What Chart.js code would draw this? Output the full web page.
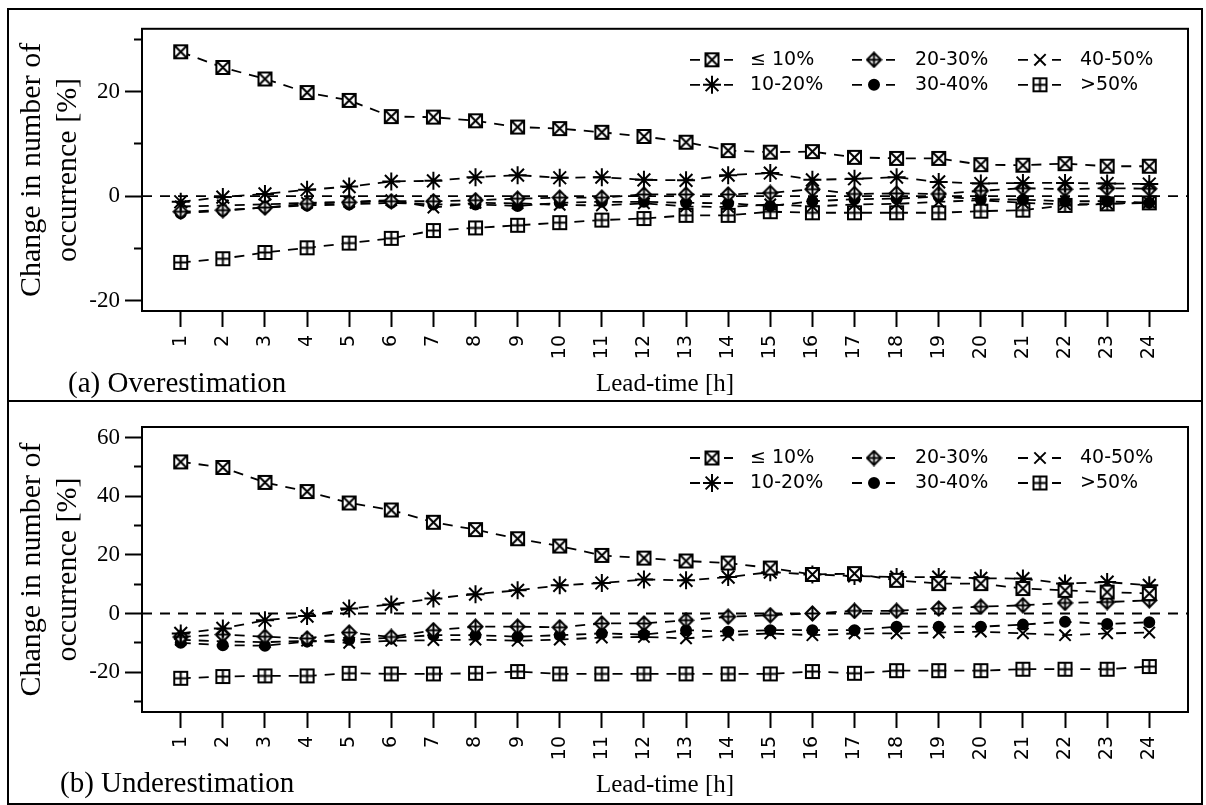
<!DOCTYPE html>
<html>
<head>
<meta charset="utf-8">
<script src="https://cdn.jsdelivr.net/npm/chart.js@4.4.1/dist/chart.umd.min.js"></script>
<style>
  body { margin: 0; background: #fff; }
  #fig { position: relative; width: 1206px; height: 805px; }
  .panel { position: absolute; left: 7px; width: 1196px; border: 2px solid #000; box-sizing: border-box; }
  #panel-a { top: 8px; height: 394px; }
  #panel-b { top: 400px; height: 405px; }
  .panel canvas { position: absolute; left: 0; top: 0; }
  .panel-label { position: absolute; font-family: "Liberation Serif", serif; font-size: 29px; line-height: 29px; color: #000; white-space: nowrap; }
</style>
</head>
<body>
<div id="fig">
  <div class="panel" id="panel-a">
    <canvas id="chart-a" width="1192" height="390"></canvas>
    <div class="panel-label" style="left:59px; top:358px">(a) Overestimation</div>
  </div>
  <div class="panel" id="panel-b">
    <canvas id="chart-b" width="1192" height="401"></canvas>
    <div class="panel-label" style="left:51px; top:366px">(b) Underestimation</div>
  </div>
</div>
<script>
// lead times (x axis)
const leadTimes = [1, 2, 3, 4, 5, 6, 7, 8, 9, 10, 11, 12, 13, 14, 15, 16, 17, 18, 19, 20, 21, 22, 23, 24];
const classNames = ['≤ 10%', '10-20%', '20-30%', '30-40%', '40-50%', '>50%'];

// (a) Overestimation
const overLe10  = [27.6, 24.6, 22.4, 19.8, 18.3, 15.2, 15.1, 14.4, 13.2, 12.9, 12.2, 11.4, 10.3, 8.7, 8.4, 8.5, 7.4, 7.2, 7.2, 6.0, 5.9, 6.2, 5.7, 5.7];
const over10_20 = [-1.1, -0.2, 0.4, 1.2, 1.8, 2.8, 2.9, 3.6, 4.0, 3.5, 3.6, 3.1, 3.0, 4.0, 4.4, 3.1, 3.3, 3.6, 2.7, 2.4, 2.5, 2.5, 2.4, 2.3];
const over20_30 = [-3.0, -2.7, -2.2, -1.5, -1.2, -1.0, -1.0, -0.8, -0.5, -0.3, -0.3, 0.3, 0.3, 0.3, 0.6, 1.3, 0.4, 0.5, 0.4, 1.0, 1.5, 1.3, 1.5, 1.4];
const over30_40 = [-3.3, -2.8, -2.2, -1.8, -1.6, -1.3, -1.6, -1.6, -1.9, -1.3, -1.1, -1.1, -1.3, -1.4, -1.9, -1.0, -0.6, -0.5, -0.1, -0.6, -0.7, -1.0, -1.0, -1.3];
const over40_50 = [-2.0, -1.8, -1.6, -1.3, -1.1, -0.8, -2.2, -1.3, -1.4, -1.7, -1.8, -1.4, -2.0, -2.1, -1.6, -2.0, -1.6, -1.5, -1.1, -0.8, -1.3, -1.6, -1.5, -1.2];
const overGt50  = [-12.7, -12.0, -10.8, -9.9, -9.0, -8.1, -6.6, -6.1, -5.6, -5.1, -4.6, -4.3, -3.7, -3.7, -3.0, -3.2, -3.2, -3.2, -3.2, -2.9, -2.7, -1.8, -1.5, -1.3];

// (b) Underestimation
const underLe10  = [51.7, 49.8, 44.7, 41.6, 37.7, 35.3, 31.1, 28.6, 25.5, 23.0, 19.8, 18.9, 17.9, 17.2, 15.5, 13.3, 13.6, 11.3, 10.2, 10.2, 8.5, 7.9, 7.3, 6.8];
const under10_20 = [-6.8, -5.1, -2.3, -0.9, 1.7, 3.1, 5.1, 6.6, 7.9, 9.6, 10.4, 11.6, 11.3, 12.4, 14.1, 13.3, 12.8, 12.4, 12.4, 12.0, 11.9, 10.2, 10.7, 9.6];
const under20_30 = [-8.0, -7.2, -7.9, -8.5, -6.5, -8.0, -5.7, -4.5, -4.5, -4.7, -3.4, -3.4, -2.3, -1.1, -0.6, 0.0, 0.9, 0.9, 1.7, 2.3, 2.8, 3.6, 3.9, 4.5];
const under30_40 = [-10.0, -10.8, -11.0, -9.6, -9.0, -8.3, -7.4, -7.4, -7.9, -7.4, -6.8, -7.2, -5.7, -6.2, -5.7, -5.7, -5.7, -4.5, -4.5, -4.5, -3.8, -2.8, -3.6, -3.0];
const under40_50 = [-9.0, -9.5, -9.8, -9.3, -10.0, -9.3, -9.1, -8.9, -9.3, -8.9, -8.2, -8.0, -8.5, -7.4, -6.8, -7.4, -6.8, -6.8, -6.5, -6.2, -6.8, -7.4, -6.8, -6.5];
const underGt50  = [-22.1, -21.5, -21.3, -21.3, -20.4, -20.6, -20.6, -20.4, -19.8, -20.6, -20.6, -20.6, -20.6, -20.6, -20.6, -19.8, -20.4, -19.5, -19.5, -19.5, -19.0, -19.0, -19.0, -18.1];

// R-like plotting symbols drawn on small canvases
function makeMarker(kind) {
  const c = document.createElement('canvas');
  c.width = 17; c.height = 17;
  const g = c.getContext('2d');
  g.strokeStyle = '#000';
  g.fillStyle = '#fff';
  g.lineWidth = 2;
  if (kind === 'diamond') {
    g.beginPath();
    g.moveTo(8.5, 1.5); g.lineTo(15.5, 8.5); g.lineTo(8.5, 15.5); g.lineTo(1.5, 8.5);
    g.closePath(); g.fill(); g.stroke();
    g.beginPath();
    g.moveTo(8.5, 1.5); g.lineTo(8.5, 15.5); g.moveTo(1.5, 8.5); g.lineTo(15.5, 8.5);
    g.stroke();
  } else {
    g.fillRect(2, 2, 13, 13);
    g.strokeRect(2, 2, 13, 13);
    g.beginPath();
    if (kind === 'squareX') {
      g.moveTo(2, 2); g.lineTo(15, 15); g.moveTo(15, 2); g.lineTo(2, 15);
    } else {
      g.moveTo(8.5, 2); g.lineTo(8.5, 15); g.moveTo(2, 8.5); g.lineTo(15, 8.5);
    }
    g.stroke();
  }
  return c;
}

const markers = [
  { pointStyle: makeMarker('squareX'), pointRadius: 7, pointBackgroundColor: '#fff' },
  { pointStyle: 'star', pointRadius: 9, pointBackgroundColor: '#fff' },
  { pointStyle: makeMarker('diamond'), pointRadius: 7, pointBackgroundColor: '#fff' },
  { pointStyle: 'circle', pointRadius: 5, pointBackgroundColor: '#000' },
  { pointStyle: 'crossRot', pointRadius: 8, pointBackgroundColor: '#fff' },
  { pointStyle: makeMarker('squarePlus'), pointRadius: 7, pointBackgroundColor: '#fff' }
];

// box around the plot region + dashed zero line
const plotFrame = {
  id: 'plotFrame',
  beforeDatasetsDraw(chart) {
    const { ctx, chartArea: a, scales: { y } } = chart;
    const y0 = y.getPixelForValue(0);
    ctx.save();
    ctx.strokeStyle = '#000';
    ctx.lineWidth = 1.8;
    ctx.setLineDash([10, 8]);
    ctx.beginPath();
    ctx.moveTo(a.left, y0);
    ctx.lineTo(a.right, y0);
    ctx.stroke();
    ctx.restore();
  },
  afterDraw(chart) {
    const { ctx, chartArea: a } = chart;
    ctx.save();
    ctx.strokeStyle = '#000';
    ctx.lineWidth = 2;
    ctx.strokeRect(a.left, a.top, a.right - a.left, a.bottom - a.top);
    ctx.restore();
  }
};

// legend in 3 columns x 2 rows, like the R legend(ncol = 3)
const boxLegend = {
  id: 'boxLegend',
  afterDatasetsDraw(chart, args, opts) {
    const { ctx, chartArea: a } = chart;
    chart.data.datasets.forEach((ds, i) => {
      const col = Math.floor(i / 2);
      const row = i % 2;
      const cx = a.left + opts.symbolX[col];
      const cy = a.top + opts.rowY[row];
      ctx.save();
      ctx.strokeStyle = '#000';
      ctx.lineWidth = 1.8;
      ctx.beginPath();
      ctx.moveTo(cx - 22, cy); ctx.lineTo(cx - 12, cy);
      ctx.moveTo(cx + 12, cy); ctx.lineTo(cx + 21, cy);
      ctx.stroke();
      ctx.fillStyle = ds.pointBackgroundColor;
      ctx.lineWidth = ds.pointBorderWidth;
      Chart.helpers.drawPoint(ctx, {
        pointStyle: ds.pointStyle, radius: ds.pointRadius, rotation: 0, borderWidth: ds.pointBorderWidth
      }, cx, cy);
      ctx.fillStyle = '#000';
      ctx.font = '19px "DejaVu Sans"';
      ctx.textBaseline = 'middle';
      ctx.textAlign = 'left';
      ctx.fillText(ds.label, a.left + opts.textX[col], cy);
      ctx.restore();
    });
  }
};

function buildChart(canvasId, series, yMin, yMax, padTop, xAxisHeight, titleBottom) {
  const datasets = series.map((values, i) => Object.assign({
    label: classNames[i],
    data: leadTimes.map((t, k) => ({ x: t, y: values[k] })),
    borderColor: '#000',
    borderWidth: 1.8,
    borderDash: [10, 8],
    pointBorderColor: '#000',
    pointBorderWidth: 2,
    tension: 0,
    fill: false
  }, markers[i]));

  return new Chart(document.getElementById(canvasId), {
    type: 'line',
    data: { datasets: datasets },
    options: {
      responsive: false,
      animation: false,
      devicePixelRatio: 1,
      layout: { padding: { top: padTop, right: 13, left: 0, bottom: 0 } },
      plugins: {
        legend: { display: false },
        tooltip: { enabled: false },
        boxLegend: { symbolX: [570, 732, 898], textX: [608, 773, 938], rowY: [31, 56] }
      },
      scales: {
        x: {
          type: 'linear',
          min: 0.08,
          max: 24.92,
          border: { display: false },
          grid: { drawOnChartArea: false, tickLength: 16, tickWidth: 2, tickColor: '#000' },
          ticks: {
            stepSize: 1, includeBounds: false, autoSkip: false,
            maxRotation: 90, minRotation: 90, padding: 8, color: '#000',
            font: { family: 'DejaVu Sans', size: 19 }
          },
          title: {
            display: true, text: 'Lead-time [h]', color: '#000',
            font: { family: 'Liberation Serif', size: 25, lineHeight: 1.2 },
            padding: { top: 0, bottom: titleBottom }
          },
          afterFit(scale) { scale.height = xAxisHeight; }
        },
        y: {
          min: yMin,
          max: yMax,
          border: { display: false },
          grid: {
            drawOnChartArea: false, tickLength: 17, tickWidth: 2, tickColor: '#000',
            tickBorderDash: (c) => (c.tick && c.tick.value % 20 === 0) ? [] : [0, 9, 8, 100]
          },
          ticks: {
            stepSize: 10, includeBounds: false, padding: 5, color: '#000',
            font: { family: 'Liberation Serif', size: 23 },
            callback: (v) => (v % 20 === 0 ? String(v) : '')
          },
          title: {
            display: true, text: ['Change in number of', 'occurrence [%]'], color: '#000',
            font: { family: 'Liberation Serif', size: 30, lineHeight: 1.17 },
            padding: { top: 6, bottom: 0 }
          },
          afterFit(scale) { scale.width = 133; }
        }
      }
    },
    plugins: [plotFrame, boxLegend]
  });
}

buildChart('chart-a', [overLe10, over10_20, over20_30, over30_40, over40_50, overGt50], -22, 32, 16, 89, 1);
buildChart('chart-b', [underLe10, under10_20, under20_30, under30_40, under40_50, underGt50], -33.6, 63.6, 25, 91, 3);
</script>
</body>
</html>
